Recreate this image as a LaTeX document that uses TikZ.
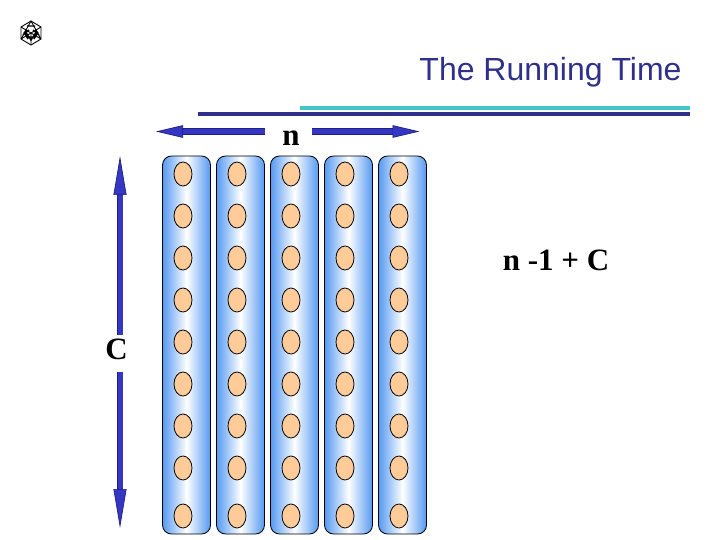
\documentclass[tikz,border=0pt]{standalone}
\usepackage{fontspec}
\setmainfont{Liberation Serif}
\newfontfamily\titlefont{Liberation Sans}
\usetikzlibrary{arrows.meta,shapes.geometric}
\definecolor{navy}{HTML}{2F2F8C}
\definecolor{arrowfill}{HTML}{3636C4}
\definecolor{arrowline}{HTML}{20207C}
\definecolor{tealbar}{HTML}{40C8C8}
\definecolor{cellfill}{HTML}{FFCC99}
\definecolor{colblue}{HTML}{5599F2}
\tikzset{
  x=1pt,y=-1pt,
  column/.style={draw=black,line width=0.8pt,rounded corners=9pt,left color=colblue,right color=colblue,middle color=white},
  cell/.style={ellipse,draw=black,line width=0.8pt,fill=cellfill,minimum width=18pt,minimum height=24pt,inner sep=0pt},
  bigarrow/.style={preaction={arrows=-,draw=arrowline,line width=6.6pt,shorten >=26pt},draw=arrowfill,line width=5pt,
    -{Triangle[length=27pt,width=12.5pt,fill=arrowfill,color=arrowline,line width=0.7pt]}},
  vertarrow/.style={preaction={arrows=-,draw=arrowline,line width=6.6pt,shorten >=38pt},draw=arrowfill,line width=5pt,
    -{Triangle[length=39pt,width=13pt,fill=arrowfill,color=arrowline,line width=0.7pt]}},
  bar/.style={line width=4.4pt},
  lab/.style={font=\fontsize{31}{31}\selectfont\bfseries,inner sep=0pt,anchor=base,text=black},
  logoline/.style={draw=black,line width=0.9pt}
}
\begin{document}
\begin{tikzpicture}
\useasboundingbox (0,0) rectangle (720,540);
% logo
\begin{scope}[shift={(31,33)}]
\coordinate (l1) at (0,-12); \coordinate (l2) at (10,-6); \coordinate (l3) at (10,6);
\coordinate (l4) at (0,12); \coordinate (l5) at (-10,6); \coordinate (l6) at (-10,-6);
\coordinate (lc) at (0,0);
\draw[logoline] (l1)--(l2)--(l3)--(l4)--(l5)--(l6)--cycle;
\draw[logoline] (l6)--(lc)--(l2) (lc)--(l4) (l5)--(l1) (l3)--(l1) (l6)--(l3) (l2)--(l5);
\draw[logoline,line width=1.4pt] (-6,-2)--(0,7)--(6,-2) (-5,4)--(5,4) (-4,-7)--(4,-7) (-7,-1)--(-3,6) (7,-1)--(3,6) (-8,2)--(-2,-3) (8,2)--(2,-3);
\end{scope}
% title and rules
\node[font=\titlefont\fontsize{32}{33}\selectfont,text=navy,inner sep=0pt,anchor=base east] (title) at (681.7,81) {The Running Time};
\coordinate (nvS) at (198,114); \coordinate (nvE) at (690,114);
\coordinate (teS) at (300,108); \coordinate (teE) at (690,108);
\draw[bar,navy] (nvS) -- (nvE);
\draw[bar,tealbar] (teS) -- (teE);
% columns
\foreach \i/\x in {1/162.5,2/216.5,3/270.5,4/324.5,5/378.5}{
  \path[column] (\x,156) rectangle (\x+48,534);
  \foreach \j/\y in {1/174,2/216,3/258,4/300,5/342,6/384,7/426,8/468,9/516}{
    \node[cell] (c\i\j) at (\x+20.5,\y) {};
  }
}
% labels
\node[lab] (n) at (291,145.5) {n};
\node[lab] (C) at (116.5,359) {C};
\node[lab] (formula) at (556,270) {n -1 + C};
% arrows
\coordinate (hLs) at (264.7,131.5); \coordinate (hLe) at (156,131.5);
\coordinate (hRs) at (312.3,131.5); \coordinate (hRe) at (419.5,131.5);
\coordinate (vUs) at (120,335); \coordinate (vUe) at (120,156);
\coordinate (vDs) at (120,372); \coordinate (vDe) at (120,528);
\draw[bigarrow] (hLs) -- (hLe);
\draw[bigarrow] (hRs) -- (hRe);
\draw[vertarrow] (vUs) -- (vUe);
\draw[vertarrow] (vDs) -- (vDe);
\end{tikzpicture}
\end{document}
